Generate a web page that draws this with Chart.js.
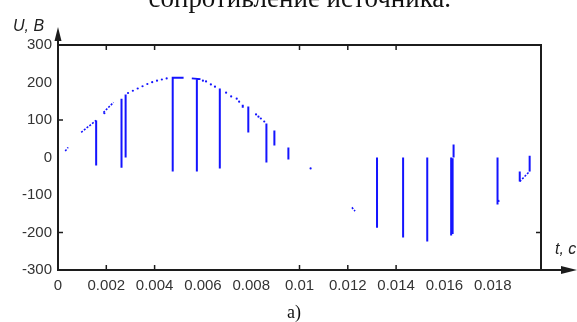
<!DOCTYPE html>
<html>
<head>
<meta charset="utf-8">
<script src="https://cdn.jsdelivr.net/npm/chart.js@4.4.1/dist/chart.umd.min.js"></script>
<style>
html, body { margin: 0; padding: 0; background: #fff; }
#wrap { position: relative; width: 577px; height: 322px; overflow: hidden; }
#chart { position: absolute; left: 0; top: 0; }
.txt { position: absolute; white-space: nowrap; color: #111; line-height: 1; }
#head { font-family: "Liberation Serif", serif; font-size: 26px; top: -14px; left: 149px; }
#cap { font-family: "Liberation Serif", serif; font-size: 18px; left: 287px; top: 303px; }
#ylab, #xlab { font-family: "Liberation Sans", Arial, sans-serif; font-style: italic; font-size: 16px; color: #222; }
#ylab { left: 13px; top: 18px; }
#xlab { left: 555px; top: 241px; }
</style>
</head>
<body>
<div id="wrap">
  <canvas id="chart" width="577" height="322"></canvas>
  <div class="txt" id="head">сопротивление источника.</div>
  <div class="txt" id="ylab">U, В</div>
  <div class="txt" id="xlab">t, с</div>
  <div class="txt" id="cap">а)</div>
</div>
<script>
const xTickValues = [0, 0.002, 0.004, 0.006, 0.008, 0.01, 0.012, 0.014, 0.016, 0.018];
const xTickLabels = ['0', '0.002', '0.004', '0.006', '0.008', '0.01', '0.012', '0.014', '0.016', '0.018'];
const yTickValues = [-300, -200, -100, 0, 100, 200, 300];
const yTickLabels = ['-300', '-200', '-100', '0', '100', '200', '300'];

// inward tick marks that show on the frame
const topTicks = [0.002, 0.004, 0.01, 0.012, 0.014];
const bottomTicks = [0.002, 0.004, 0.01, 0.012, 0.014];
const leftTicks = [100, -200];
const rightTicks = [-200];

// solid pieces of the voltage trace (mostly the vertical jumps), null = break
const segT = [
  0.00158, 0.00158, null,
  0.00263, 0.00263, null,
  0.0028, 0.0028, null,
  0.00475, 0.00475, 0.0052, null,
  0.00554, 0.0059, null,
  0.00575, 0.00575, null,
  0.0067, 0.0067, null,
  0.00765, 0.00765, null,
  0.00788, 0.00788, null,
  0.00863, 0.00863, null,
  0.00896, 0.00896, null,
  0.00954, 0.00954, null,
  0.01321, 0.01321, null,
  0.01429, 0.01429, null,
  0.01529, 0.01529, null,
  0.01628, 0.01628, null,
  0.01634, 0.01634, null,
  0.01638, 0.01638, null,
  0.0182, 0.0182, null,
  0.0182, 0.01828, null,
  0.01912, 0.01912, null,
  0.01953, 0.01953
];
const segU = [
  99, -21, null,
  157, -27, null,
  168, 0, null,
  -37, 213, 213, null,
  211, 209, null,
  210, -37, null,
  184, -29, null,
  141, 133, null,
  136, 67, null,
  91, -13, null,
  72, 32, null,
  27, -5, null,
  0, -187, null,
  0, -213, null,
  0, -224, null,
  0, -208, null,
  -2, -204, null,
  35, 0, null,
  0, -125, null,
  -117, -115, null,
  -37, -64, null,
  -37, 5
];

// thin dotted stretches that follow the wave
const slopeT = [0.0003, 0.00042, null, 0.00096, 0.00158, null, 0.00188, 0.0023, null, 0.01217, 0.0123, null, 0.01912, 0.01953];
const slopeU = [17, 27, null, 67, 99, null, 120, 147, null, -133, -143, null, -64, -37];

// isolated sample dots
const dotT = [0.0029, 0.0031, 0.0033, 0.0035, 0.0037, 0.0039, 0.0041, 0.0043, 0.0045,
  0.0060, 0.00613, 0.00633, 0.0065,
  0.00696, 0.00717, 0.0074, 0.0075,
  0.0082, 0.0083, 0.0084, 0.00854,
  0.01046, 0.00192];
const dotU = [172, 178, 184, 190, 196, 201, 205, 208, 211,
  205, 203, 195, 189,
  173, 163, 157, 149,
  115, 109, 104, 96,
  -29, 118];

const blue = '#1414ff';

const framePlugin = {
  id: 'frame',
  afterDraw(chart) {
    const { ctx, chartArea: a, scales: { x, y } } = chart;
    ctx.save();
    ctx.strokeStyle = '#1c1c1c';
    ctx.fillStyle = '#1c1c1c';
    ctx.lineWidth = 2;
    ctx.beginPath();
    ctx.moveTo(a.left, a.top - 6);
    ctx.lineTo(a.left, a.bottom);
    ctx.lineTo(a.right + 22, a.bottom);
    ctx.moveTo(a.left, a.top);
    ctx.lineTo(a.right, a.top);
    ctx.lineTo(a.right, a.bottom);
    ctx.stroke();

    ctx.lineWidth = 1.5;
    ctx.beginPath();
    topTicks.forEach(v => { const px = x.getPixelForValue(v); ctx.moveTo(px, a.top); ctx.lineTo(px, a.top + 5); });
    bottomTicks.forEach(v => { const px = x.getPixelForValue(v); ctx.moveTo(px, a.bottom); ctx.lineTo(px, a.bottom - 5); });
    leftTicks.forEach(v => { const py = y.getPixelForValue(v); ctx.moveTo(a.left, py); ctx.lineTo(a.left + 5, py); });
    rightTicks.forEach(v => { const py = y.getPixelForValue(v); ctx.moveTo(a.right, py); ctx.lineTo(a.right - 5, py); });
    ctx.stroke();

    // arrow heads
    ctx.beginPath();
    ctx.moveTo(a.left, a.top - 18);
    ctx.lineTo(a.left - 3.5, a.top - 4);
    ctx.lineTo(a.left + 3.5, a.top - 4);
    ctx.closePath();
    ctx.fill();
    ctx.beginPath();
    ctx.moveTo(a.right + 36, a.bottom);
    ctx.lineTo(a.right + 20, a.bottom - 4);
    ctx.lineTo(a.right + 20, a.bottom + 4);
    ctx.closePath();
    ctx.fill();
    ctx.restore();
  }
};

const tickFont = { family: '"Liberation Sans", Arial, sans-serif', size: 15 };

function toPoints(ts, us) {
  return ts.map((t, i) => ({ x: t === null ? 0 : t, y: us[i] }));
}

chart = new Chart(document.getElementById('chart'), {
  type: 'scatter',
  data: {
    datasets: [{
      label: 'jumps',
      data: toPoints(segT, segU),
      showLine: true,
      borderColor: blue,
      borderWidth: 2,
      borderCapStyle: 'butt',
      pointRadius: 0,
      fill: false
    }, {
      label: 'slopes',
      data: toPoints(slopeT, slopeU),
      showLine: true,
      borderColor: blue,
      borderWidth: 1.6,
      borderDash: [2, 1.5],
      pointRadius: 0,
      fill: false
    }, {
      label: 'dots',
      data: toPoints(dotT, dotU),
      showLine: false,
      pointRadius: 1.1,
      pointBorderWidth: 0,
      pointBackgroundColor: blue
    }]
  },
  options: {
    responsive: false,
    animation: false,
    layout: { padding: { top: 45, right: 36, bottom: 0, left: 0 } },
    plugins: { legend: { display: false }, tooltip: { enabled: false } },
    scales: {
      x: {
        type: 'linear',
        min: 0,
        max: 0.02,
        grid: { display: false, drawTicks: false },
        border: { display: false },
        afterBuildTicks: s => { s.ticks = xTickValues.map(v => ({ value: v })); },
        afterFit: s => { s.height = 52; },
        ticks: {
          autoSkip: false,
          maxRotation: 0,
          padding: 7,
          color: '#333',
          font: tickFont,
          callback: (v, i) => xTickLabels[i]
        }
      },
      y: {
        min: -300,
        max: 300,
        grid: { display: false, drawTicks: false },
        border: { display: false },
        afterBuildTicks: s => { s.ticks = yTickValues.map(v => ({ value: v })); },
        afterFit: s => { s.width = 58; },
        ticks: {
          padding: 6,
          color: '#333',
          font: tickFont,
          callback: (v, i) => yTickLabels[i]
        }
      }
    }
  },
  plugins: [framePlugin]
});

// fit the cut-off heading to its width in the scan
const head = document.getElementById('head');
const w = head.offsetWidth;
const fs = 26 * 303 / w;
head.style.fontSize = fs + 'px';
head.style.top = (8 - 0.8375 * fs) + 'px';
head.style.left = (300 - head.offsetWidth / 2) + 'px';
</script>
</body>
</html>
